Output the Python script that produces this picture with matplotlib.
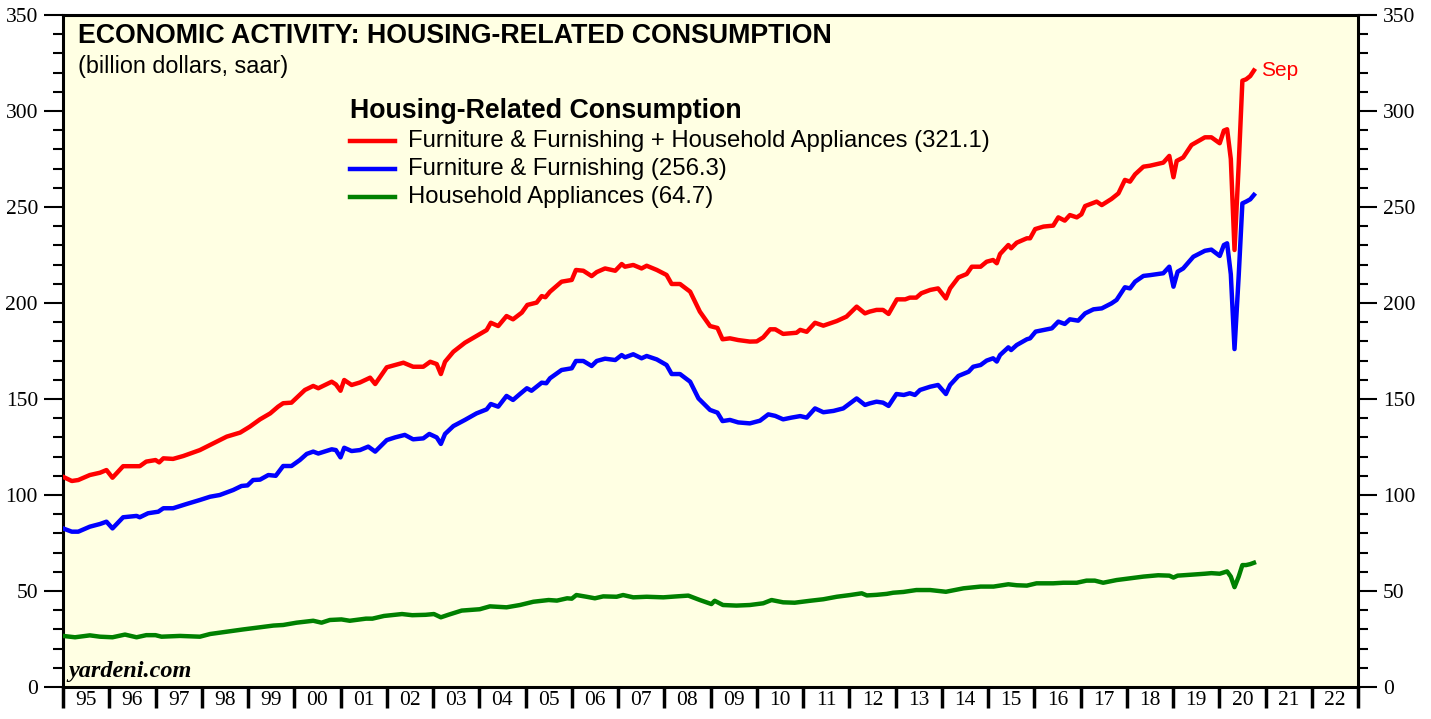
import matplotlib
matplotlib.use("Agg")
import matplotlib.pyplot as plt
from matplotlib.ticker import MultipleLocator, FixedLocator, NullFormatter, FixedFormatter
from matplotlib.lines import Line2D

# values (billion dollars, saar), time as decimal years
red_t = [1995.00, 1995.19, 1995.33, 1995.58, 1995.80, 1995.94, 1996.07, 1996.30, 1996.66, 1996.80,
         1997.00, 1997.08, 1997.17, 1997.38, 1997.60, 1997.96, 1998.25, 1998.54, 1998.83, 1999.04,
         1999.26, 1999.48, 1999.65, 1999.76, 1999.94, 2000.23, 2000.41, 2000.52, 2000.81, 2000.90,
         2001.00, 2001.08, 2001.24, 2001.42, 2001.64, 2001.75, 2002.00, 2002.36, 2002.57, 2002.79,
         2002.94, 2003.08, 2003.17, 2003.26, 2003.44, 2003.69, 2003.94, 2004.16, 2004.25, 2004.41,
         2004.59, 2004.73, 2004.92, 2005.04, 2005.24, 2005.35, 2005.43, 2005.53, 2005.78, 2006.00,
         2006.09, 2006.25, 2006.43, 2006.54, 2006.72, 2006.94, 2007.08, 2007.15, 2007.33, 2007.51,
         2007.62, 2007.84, 2008.05, 2008.16, 2008.34, 2008.56, 2008.77, 2008.99, 2009.15, 2009.26,
         2009.42, 2009.60, 2009.85, 2010.00, 2010.14, 2010.29, 2010.40, 2010.57, 2010.86, 2010.94,
         2011.08, 2011.26, 2011.44, 2011.73, 2011.94, 2012.16, 2012.34, 2012.44, 2012.59, 2012.73,
         2012.85, 2013.03, 2013.21, 2013.31, 2013.45, 2013.56, 2013.75, 2013.92, 2014.09, 2014.18,
         2014.36, 2014.54, 2014.65, 2014.84, 2014.97, 2015.11, 2015.19, 2015.26, 2015.44, 2015.50,
         2015.62, 2015.84, 2015.91, 2016.02, 2016.20, 2016.41, 2016.52, 2016.66, 2016.77, 2016.92,
         2017.02, 2017.10, 2017.35, 2017.46, 2017.67, 2017.82, 2017.96, 2018.07, 2018.18, 2018.36,
         2018.50, 2018.79, 2018.92, 2019.01, 2019.08, 2019.22, 2019.40, 2019.69, 2019.83, 2020.01,
         2020.10, 2020.17, 2020.25, 2020.33, 2020.42, 2020.50, 2020.58, 2020.67, 2020.75]
red_v = [109.5, 107.3, 107.8, 110.4, 111.6, 113.0, 109.0, 115.0, 115.0, 117.4,
         118.2, 117.0, 119.1, 118.8, 120.3, 123.4, 126.9, 130.4, 132.5, 135.6,
         139.4, 142.5, 146.0, 147.8, 148.1, 154.7, 156.8, 155.6, 159.0, 157.6,
         154.3, 159.9, 157.3, 158.6, 161.1, 157.8, 166.5, 168.9, 166.8, 166.8,
         169.4, 168.2, 163.0, 169.4, 174.6, 179.3, 182.8, 185.9, 189.7, 188.0,
         193.2, 191.5, 195.0, 199.0, 200.2, 203.6, 203.0, 205.9, 211.1, 212.0,
         217.2, 216.8, 214.0, 216.1, 218.0, 216.8, 220.3, 218.9, 219.8, 218.0,
         219.4, 217.2, 214.6, 209.9, 209.9, 205.9, 195.5, 188.0, 187.0, 181.1,
         181.6, 180.7, 179.9, 180.0, 182.1, 186.3, 186.3, 183.9, 184.5, 186.0,
         185.0, 189.7, 188.2, 190.6, 192.9, 198.1, 194.6, 195.5, 196.4, 196.4,
         194.3, 201.9, 201.9, 202.8, 202.8, 205.1, 206.8, 207.6, 202.4, 207.6,
         213.3, 215.1, 218.9, 218.9, 221.5, 222.4, 220.7, 225.5, 230.2, 228.5,
         231.4, 233.7, 233.7, 238.5, 239.8, 240.3, 244.6, 242.9, 245.8, 244.6,
         246.2, 250.5, 252.8, 251.0, 254.2, 257.1, 264.1, 263.2, 267.0, 271.0,
         271.5, 273.1, 276.6, 265.5, 274.0, 275.8, 282.3, 286.3, 286.3, 283.2,
         289.8, 290.5, 275.0, 227.6, 271.7, 315.8, 316.5, 318.2, 321.1]

blue_t = [1995.00, 1995.19, 1995.33, 1995.58, 1995.80, 1995.94, 1996.07, 1996.30, 1996.59, 1996.66,
          1996.84, 1997.06, 1997.17, 1997.38, 1997.67, 1997.96, 1998.18, 1998.39, 1998.68, 1998.86,
          1998.99, 1999.11, 1999.26, 1999.44, 1999.60, 1999.76, 1999.94, 2000.12, 2000.27, 2000.41,
          2000.52, 2000.81, 2000.90, 2001.00, 2001.08, 2001.24, 2001.42, 2001.60, 2001.75, 2002.00,
          2002.18, 2002.39, 2002.57, 2002.79, 2002.92, 2003.08, 2003.17, 2003.26, 2003.44, 2003.69,
          2003.94, 2004.16, 2004.25, 2004.41, 2004.59, 2004.73, 2004.88, 2005.03, 2005.13, 2005.24,
          2005.35, 2005.45, 2005.53, 2005.78, 2006.00, 2006.09, 2006.25, 2006.43, 2006.54, 2006.72,
          2006.94, 2007.08, 2007.15, 2007.33, 2007.51, 2007.62, 2007.84, 2008.05, 2008.16, 2008.34,
          2008.56, 2008.74, 2008.99, 2009.15, 2009.26, 2009.42, 2009.60, 2009.85, 2010.07, 2010.25,
          2010.40, 2010.57, 2010.75, 2010.94, 2011.08, 2011.26, 2011.44, 2011.66, 2011.87, 2012.16,
          2012.34, 2012.44, 2012.59, 2012.73, 2012.85, 2013.02, 2013.18, 2013.31, 2013.42, 2013.53,
          2013.75, 2013.92, 2014.09, 2014.18, 2014.36, 2014.58, 2014.68, 2014.84, 2014.97, 2015.11,
          2015.19, 2015.26, 2015.44, 2015.50, 2015.62, 2015.84, 2015.91, 2016.03, 2016.20, 2016.38,
          2016.52, 2016.66, 2016.77, 2016.95, 2017.10, 2017.28, 2017.46, 2017.67, 2017.78, 2017.96,
          2018.07, 2018.18, 2018.36, 2018.50, 2018.79, 2018.92, 2019.01, 2019.10, 2019.22, 2019.44,
          2019.69, 2019.83, 2020.01, 2020.10, 2020.17, 2020.25, 2020.33, 2020.42, 2020.50, 2020.58,
          2020.67, 2020.75]
blue_v = [82.6, 80.9, 80.9, 83.5, 84.9, 86.1, 82.6, 88.4, 89.1, 88.4,
          90.5, 91.3, 93.1, 93.1, 95.3, 97.4, 99.1, 100.0, 102.6, 104.7,
          105.0, 107.8, 108.0, 110.4, 110.0, 115.1, 115.1, 118.2, 121.4, 122.6,
          121.6, 123.8, 123.4, 119.6, 124.6, 122.9, 123.4, 125.2, 122.6, 128.6,
          130.0, 131.3, 129.0, 129.5, 131.8, 130.0, 126.6, 131.8, 135.9, 139.1,
          142.5, 144.6, 147.4, 146.0, 151.6, 149.5, 152.6, 155.6, 154.3, 156.4,
          158.5, 158.2, 160.8, 165.1, 166.0, 169.8, 169.8, 167.2, 169.8, 171.0,
          170.3, 172.9, 171.7, 173.3, 171.2, 172.4, 170.6, 167.7, 163.0, 163.0,
          159.0, 150.3, 144.3, 142.9, 138.5, 139.1, 137.8, 137.3, 138.7, 142.0,
          141.2, 139.4, 140.3, 141.1, 140.3, 145.1, 143.1, 143.8, 145.1, 150.3,
          146.9, 147.7, 148.6, 148.1, 146.4, 152.6, 152.1, 153.0, 152.1, 154.7,
          156.4, 157.3, 152.6, 157.3, 162.0, 164.2, 166.8, 167.7, 170.0, 171.2,
          169.5, 172.9, 176.9, 175.5, 178.1, 181.1, 181.6, 185.1, 185.9, 186.8,
          190.3, 189.1, 191.5, 190.8, 194.6, 196.7, 197.2, 199.8, 201.6, 208.2,
          207.6, 211.1, 214.1, 214.5, 215.5, 218.9, 208.5, 216.3, 218.0, 224.1,
          227.2, 227.8, 224.5, 230.2, 231.1, 215.0, 176.0, 214.0, 251.9, 252.8,
          254.0, 256.3]

green_t = [1995.00, 1995.26, 1995.58, 1995.80, 1996.07, 1996.34, 1996.59, 1996.80, 1997.00, 1997.13,
           1997.53, 1997.96, 1998.18, 1998.54, 1998.90, 1999.26, 1999.55, 1999.76, 2000.05, 2000.41,
           2000.59, 2000.77, 2001.02, 2001.20, 2001.55, 2001.69, 2001.94, 2002.33, 2002.55, 2002.84,
           2003.02, 2003.17, 2003.33, 2003.62, 2004.01, 2004.23, 2004.59, 2004.88, 2005.17, 2005.50,
           2005.68, 2005.90, 2006.00, 2006.10, 2006.32, 2006.50, 2006.68, 2006.97, 2007.11, 2007.33,
           2007.62, 2007.98, 2008.27, 2008.52, 2008.77, 2009.02, 2009.09, 2009.27, 2009.56, 2009.85,
           2010.14, 2010.32, 2010.57, 2010.82, 2011.15, 2011.44, 2011.73, 2012.02, 2012.27, 2012.38,
           2012.59, 2012.81, 2012.95, 2013.17, 2013.45, 2013.75, 2014.09, 2014.47, 2014.84, 2015.12,
           2015.44, 2015.62, 2015.84, 2016.05, 2016.41, 2016.63, 2016.92, 2017.13, 2017.31, 2017.49,
           2017.78, 2018.07, 2018.36, 2018.68, 2018.92, 2019.01, 2019.10, 2019.40, 2019.69, 2019.83,
           2020.01, 2020.17, 2020.25, 2020.33, 2020.42, 2020.50, 2020.58, 2020.67, 2020.75]
green_v = [26.6, 25.9, 26.9, 26.2, 25.9, 27.3, 25.9, 27.0, 27.0, 26.2,
           26.6, 26.2, 27.6, 28.8, 30.0, 31.1, 32.0, 32.3, 33.5, 34.5,
           33.5, 34.9, 35.2, 34.5, 35.6, 35.6, 37.0, 38.0, 37.4, 37.6,
           38.0, 36.3, 37.6, 39.8, 40.5, 42.0, 41.5, 42.7, 44.4, 45.3,
           45.0, 46.2, 46.0, 47.9, 47.0, 46.2, 47.2, 47.0, 47.9, 46.7,
           47.0, 46.7, 47.2, 47.6, 45.3, 43.2, 44.9, 42.7, 42.4, 42.7,
           43.6, 45.3, 44.1, 43.9, 44.9, 45.7, 47.0, 47.9, 48.8, 47.7,
           48.0, 48.5, 49.1, 49.5, 50.5, 50.5, 49.6, 51.4, 52.3, 52.3,
           53.5, 53.0, 52.8, 54.0, 54.0, 54.3, 54.3, 55.4, 55.4, 54.3,
           55.7, 56.6, 57.5, 58.2, 58.0, 57.0, 58.0, 58.5, 59.0, 59.3,
           59.0, 60.2, 57.5, 52.0, 57.5, 63.5, 63.5, 64.0, 64.7]

years = list(range(1995, 2023))
year_labels = ["%02d" % (y % 100) for y in years]
series_names = ["Furniture & Furnishing + Household Appliances (321.1)",
                "Furniture & Furnishing (256.3)",
                "Household Appliances (64.7)"]
series_colors = ["#FF0000", "#0000FF", "#008000"]

sans = "Liberation Sans"
serif = "Liberation Serif"
W, H = 1431, 719

def fx(px):
    return px / W

def fy(py):
    # pixel row from the top -> figure fraction
    return 1 - py / H

fig = plt.figure(figsize=(W / 100, H / 100), dpi=100)
fig.patch.set_facecolor("white")
ax = fig.add_axes([fx(63), fy(687), fx(1358) - fx(63), fy(15) - fy(687)])
ax.set_facecolor("#FFFFE3")

ax.plot(red_t, red_v, color=series_colors[0], lw=3.2, solid_joinstyle="round", zorder=3)
ax.plot(blue_t, blue_v, color=series_colors[1], lw=3.2, solid_joinstyle="round", zorder=3)
ax.plot(green_t, green_v, color=series_colors[2], lw=3.2, solid_joinstyle="round", zorder=3)

ax.set_xlim(1995, 2023)
ax.set_ylim(0, 350)

for s in ax.spines.values():
    s.set_linewidth(2.2)

# y axis on both sides, ticks outward
ax.yaxis.set_major_locator(MultipleLocator(50))
ax.yaxis.set_minor_locator(MultipleLocator(10))
ax.tick_params(axis="y", which="major", direction="out", length=14, width=1.5,
               left=True, right=True, labelleft=True, labelright=True, labelsize=15.5, pad=4)
ax.tick_params(axis="y", which="minor", direction="out", length=7, width=1.5,
               left=True, right=True)
for lab in ax.get_yticklabels():
    lab.set_fontfamily(serif)

# x axis: year boundaries as ticks, labels centered in the year
ax.xaxis.set_major_locator(FixedLocator(years + [2023]))
ax.xaxis.set_major_formatter(NullFormatter())
ax.xaxis.set_minor_locator(FixedLocator([y + 0.5 for y in years]))
ax.xaxis.set_minor_formatter(FixedFormatter(year_labels))
ax.tick_params(axis="x", which="major", direction="out", length=15, width=2.5, top=False)
ax.tick_params(axis="x", which="minor", length=0, labelsize=15.5, pad=3, top=False)
for lab in ax.get_xticklabels(minor=True):
    lab.set_fontfamily(serif)

# titles and notes
fig.text(fx(78), fy(36), "ECONOMIC ACTIVITY: HOUSING-RELATED CONSUMPTION",
         fontsize=19.3, fontweight="bold", family=sans, va="center")
fig.text(fx(78), fy(66), "(billion dollars, saar)", fontsize=16.8, family=sans, va="center")
fig.text(fx(68), fy(672), "yardeni.com", fontsize=17.5, family=serif,
         fontweight="bold", style="italic", va="center")
fig.text(fx(1261), fy(71), "Sep", fontsize=15, family=sans, color=series_colors[0], va="center")

# legend drawn by hand
fig.text(fx(350), fy(111), "Housing-Related Consumption", fontsize=19.3, fontweight="bold",
         family=sans, va="center")
for i, (name, col) in enumerate(zip(series_names, series_colors)):
    yy = 141 + 28 * i
    fig.add_artist(Line2D([fx(350), fx(395)], [fy(yy), fy(yy)], color=col, lw=3.2,
                          transform=fig.transFigure))
    fig.text(fx(408), fy(yy), name, fontsize=17.2, family=sans, va="center")

fig.savefig("out.png", dpi=100, facecolor="white")
